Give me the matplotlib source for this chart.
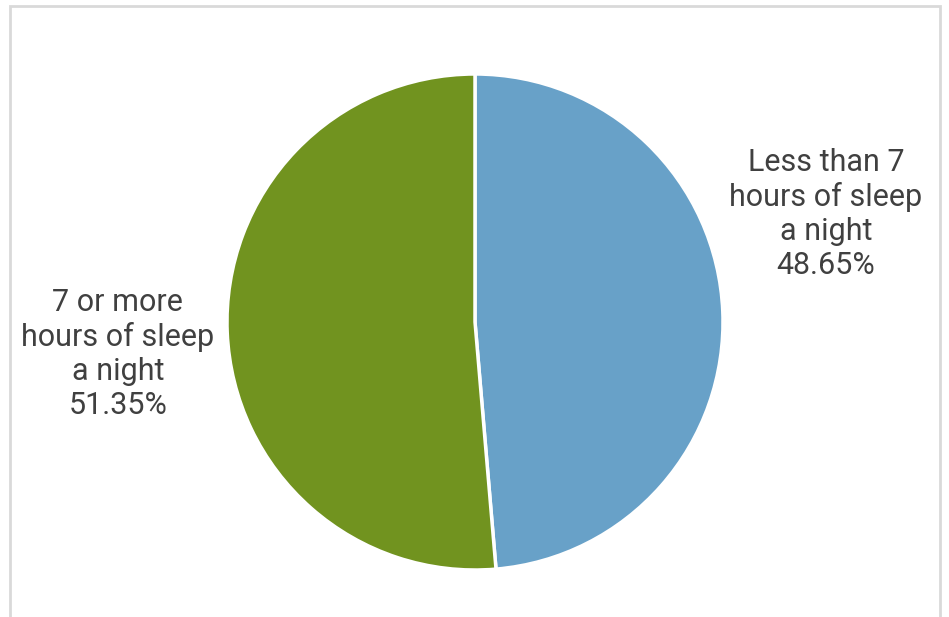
import matplotlib.pyplot as plt
from matplotlib.patches import Rectangle

# slice data (clockwise from 12 o'clock)
categories = ["Less than 7\nhours of sleep\na night", "7 or more\nhours of sleep\na night"]
shares = [48.65, 51.35]
colors = ["#68A1C8", "#71931F"]

W, H = 949, 617
fig = plt.figure(figsize=(W / 100, H / 100), dpi=100)
fig.patch.set_facecolor("white")

# chart frame (bottom runs off the image)
fig.patches.append(Rectangle((10 / W, -0.05), 930 / W, 1.05 - 6 / H,
                             transform=fig.transFigure, fill=False,
                             edgecolor="#D9D9D9", linewidth=2))

ax = fig.add_axes([0, 0, 1, 1])
ax.pie(shares, colors=colors, startangle=90, counterclock=False,
       radius=1, center=(0, 0),
       wedgeprops=dict(edgecolor="white", linewidth=2.5))

# pie() resets the limits, so set them afterwards
cx, cy, r = 475, 295, 248
ax.set_xlim(-cx / r, (W - cx) / r)
ax.set_ylim(-cy / r, (H - cy) / r)
ax.set_aspect("equal")
ax.axis("off")

label_pos = [(1.415, 0.435), (-1.44, -0.13)]
for cat, val, (lx, ly) in zip(categories, shares, label_pos):
    ax.text(lx, ly, f"{cat}\n{val:.2f}%", ha="center", va="center",
            fontsize=22, color="#404040", family="Roboto", linespacing=1.22)

fig.savefig("out.png", dpi=100)
